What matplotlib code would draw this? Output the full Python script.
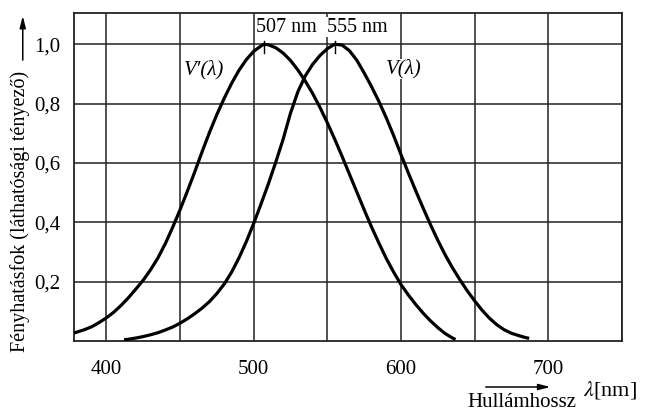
import matplotlib
matplotlib.use("Agg")
import matplotlib.pyplot as plt
from matplotlib.ticker import FuncFormatter, MultipleLocator

plt.rcParams["font.family"] = ["Liberation Serif", "DejaVu Serif"]
plt.rcParams["mathtext.fontset"] = "stix"

# scotopic curve V'(lambda)
wl_scot = [378, 380, 385, 390, 395, 400, 405, 410, 415, 420, 425, 430, 435,
           440, 445, 450, 455, 460, 465, 470, 475, 480, 485, 490, 495, 500,
           505, 507, 510, 515, 520, 525, 530, 535, 540, 545, 550, 555, 560,
           565, 570, 575, 580, 585, 590, 595, 600, 605, 610, 615, 620, 625,
           630, 635, 637]
v_scot = [0.027, 0.030, 0.038, 0.048, 0.062, 0.078, 0.097, 0.120, 0.146,
          0.175, 0.205, 0.240, 0.280, 0.328, 0.383, 0.442, 0.505, 0.570,
          0.638, 0.703, 0.763, 0.818, 0.868, 0.912, 0.948, 0.976, 0.994,
          1.0, 0.998, 0.988, 0.970, 0.945, 0.913, 0.876, 0.834, 0.787,
          0.735, 0.680, 0.622, 0.562, 0.502, 0.442, 0.384, 0.330, 0.278,
          0.232, 0.190, 0.155, 0.123, 0.094, 0.068, 0.045, 0.025, 0.010,
          0.005]

# photopic curve V(lambda)
wl_phot = [412, 415, 420, 425, 430, 435, 440, 445, 450, 455, 460, 465, 470,
           475, 480, 485, 490, 495, 500, 505, 510, 515, 520, 525, 530, 535,
           540, 545, 550, 555, 560, 565, 570, 575, 580, 585, 590, 595, 600,
           605, 610, 615, 620, 625, 630, 635, 640, 645, 650, 655, 660, 665,
           670, 675, 680, 685, 687]
v_phot = [0.004, 0.006, 0.010, 0.015, 0.021, 0.028, 0.037, 0.047, 0.060,
          0.075, 0.092, 0.111, 0.133, 0.160, 0.192, 0.232, 0.280, 0.335,
          0.396, 0.462, 0.530, 0.603, 0.680, 0.768, 0.840, 0.893, 0.932,
          0.962, 0.985, 1.0, 0.997, 0.978, 0.946, 0.903, 0.857, 0.807,
          0.752, 0.692, 0.628, 0.566, 0.506, 0.448, 0.392, 0.339, 0.290,
          0.246, 0.206, 0.169, 0.135, 0.104, 0.077, 0.055, 0.038, 0.026,
          0.018, 0.011, 0.009]

peaks = [507, 555]
peak_labels = ["507 nm", "555 nm"]

fig = plt.figure(figsize=(6.5, 4.11), dpi=100)
ax = fig.add_axes([0.1138, 0.1703, 0.8431, 0.798])

ax.plot(wl_scot, v_scot, color="black", lw=2.3, solid_capstyle="butt",
        solid_joinstyle="round", zorder=3)
ax.plot(wl_phot, v_phot, color="black", lw=2.3, solid_capstyle="butt",
        solid_joinstyle="round", zorder=3)

for p, lab in zip(peaks, peak_labels):
    ax.plot([p, p], [0.97, 1.012], color="black", lw=1.0, zorder=4)
    ax.text(p + 15, 1.057, lab, ha="center", va="center", fontsize=14.5,
            bbox=dict(facecolor="white", edgecolor="none", pad=0.5), zorder=5)

ax.text(466, 0.915, "V′(λ)", style="italic", ha="center", va="center", fontsize=15)
ax.text(602, 0.917, "V(λ)", style="italic", ha="center", va="center", fontsize=15,
        bbox=dict(facecolor="white", edgecolor="none", pad=0.3))

ax.set_xlim(378, 750)
ax.set_ylim(0, 1.105)
ax.xaxis.set_minor_locator(MultipleLocator(50))
ax.set_xticks([400, 500, 600, 700])
ax.set_yticks([0.2, 0.4, 0.6, 0.8, 1.0])
ax.yaxis.set_major_formatter(FuncFormatter(lambda v, _: f"{v:.1f}".replace(".", ",")))
ax.grid(which="both", color="#222222", lw=1.1)
ax.tick_params(which="both", length=0, labelsize=15)
ax.tick_params(axis="x", pad=14)
ax.tick_params(axis="y", pad=10)
for s in ax.spines.values():
    s.set_linewidth(1.3)
    s.set_color("#222222")

# axis captions with arrows
fig.text(0.031, 0.486, "Fényhatásfok (láthatósági tényező)", rotation=90,
         ha="center", va="center", fontsize=14.5)
ax.annotate("", xy=(0.035, 0.968), xytext=(0.035, 0.847), xycoords="figure fraction",
            arrowprops=dict(arrowstyle="-|>,head_length=0.7,head_width=0.18",
                            color="black", lw=1.1))
ax.annotate("", xy=(0.851, 0.0584), xytext=(0.743, 0.0584), xycoords="figure fraction",
            arrowprops=dict(arrowstyle="-|>,head_length=0.7,head_width=0.18",
                            color="black", lw=1.1))
fig.text(0.803, 0.021, "Hullámhossz", ha="center", va="center", fontsize=15)
fig.text(0.938, 0.052, r"$\lambda$[nm]", ha="center", va="center", fontsize=16)

fig.savefig("out.png", dpi=100)
